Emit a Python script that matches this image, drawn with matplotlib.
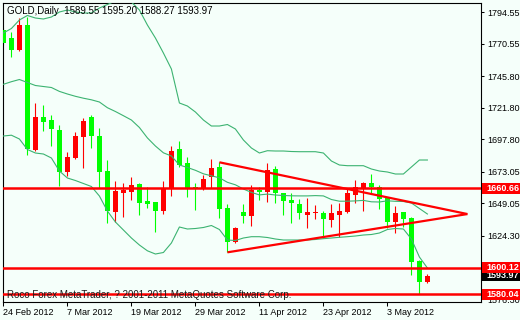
import matplotlib
matplotlib.use("Agg")
import matplotlib.pyplot as plt
from matplotlib.patches import Rectangle
from matplotlib.transforms import blended_transform_factory

plt.rcParams['font.family'] = ['Liberation Sans', 'DejaVu Sans']

# ---------------- data ----------------
symbol_title = "GOLD,Daily  1589.55 1595.20 1588.27 1593.97"
copyright_text = "Roco Forex MetaTrader, ? 2001-2011 MetaQuotes Software Corp."

opens = [1781.10, 1774.76, 1765.85, 1784.88, 1689.74, 1714.63, 1712.58, 1704.97, 1673.23, 1683.89,
         1699.87, 1714.63, 1700.40, 1673.76, 1642.79, 1657.25, 1658.01, 1663.87, 1650.93, 1650.17,
         1643.55, 1661.05, 1690.50, 1679.62, 1661.59, 1661.05, 1669.42, 1677.03, 1645.38, 1619.95,
         1642.79, 1639.51, 1659.30, 1658.01, 1675.28, 1656.79, 1651.69, 1648.65, 1640.50, 1641.56,
         1642.03, 1636.47, 1640.28, 1642.79, 1655.50, 1659.84, 1664.86, 1661.81, 1653.21, 1635.18,
         1642.79, 1638.22, 1605.49, 1589.55]
highs = [1782.60, 1779.33, 1789.98, 1790.74, 1725.75, 1723.99, 1716.38, 1708.77, 1688.45, 1703.44,
         1713.87, 1716.38, 1706.26, 1682.13, 1666.15, 1664.86, 1668.97, 1664.86, 1661.81, 1650.17,
         1666.15, 1693.02, 1696.59, 1684.19, 1664.40, 1670.70, 1682.89, 1680.38, 1648.65, 1631.37,
         1648.42, 1663.10, 1661.81, 1679.62, 1677.57, 1656.79, 1657.25, 1652.22, 1652.98, 1647.89,
         1643.32, 1648.42, 1649.18, 1660.59, 1666.91, 1665.62, 1671.25, 1663.10, 1653.75, 1647.13,
         1642.79, 1638.98, 1606.02, 1595.20]
lows = [1769.66, 1760.76, 1765.09, 1685.94, 1689.21, 1704.21, 1692.79, 1662.58, 1670.19, 1682.67,
        1676.27, 1691.50, 1661.05, 1633.96, 1635.18, 1638.98, 1651.69, 1640.28, 1645.38, 1627.56,
        1641.03, 1654.73, 1677.03, 1654.20, 1644.08, 1659.30, 1661.05, 1638.22, 1611.87, 1618.73,
        1633.96, 1631.90, 1651.69, 1649.94, 1649.18, 1640.28, 1633.96, 1637.00, 1630.15, 1637.22,
        1622.99, 1630.91, 1623.75, 1641.56, 1649.64, 1643.55, 1656.03, 1644.84, 1630.15, 1626.35,
        1631.37, 1594.61, 1580.04, 1588.27]
closes = [1770.95, 1765.85, 1784.88, 1690.28, 1714.63, 1711.28, 1705.50, 1673.23, 1684.42, 1700.40,
          1711.82, 1700.40, 1673.23, 1643.55, 1658.54, 1659.30, 1663.10, 1649.64, 1648.88, 1643.55,
          1661.05, 1688.98, 1678.33, 1661.05, 1659.84, 1667.67, 1675.82, 1644.84, 1619.50, 1630.15,
          1639.74, 1659.30, 1658.01, 1674.52, 1657.25, 1651.16, 1649.18, 1641.56, 1642.56, 1642.79,
          1637.22, 1642.03, 1643.55, 1657.25, 1661.81, 1664.40, 1661.81, 1652.45, 1635.18, 1642.03,
          1637.22, 1604.73, 1589.55, 1593.97]

bb_upper = [1778.79, 1782.22, 1788.69, 1792.11, 1790.21, 1789.45, 1790.97, 1794.78, 1796.30, 1794.78,
            1794.02, 1794.02, 1797.82, 1800.49, 1803.15, 1802.77, 1802.39, 1796.30, 1784.88, 1774.99,
            1763.57, 1751.39, 1725.52, 1723.23, 1718.67, 1712.58, 1708.01, 1708.01, 1709.15, 1705.73,
            1697.36, 1691.27, 1687.46, 1689.21, 1688.98, 1688.98, 1688.60, 1688.45, 1688.45, 1688.45,
            1687.46, 1681.37, 1678.33, 1677.80, 1677.80, 1677.80, 1675.28, 1673.76, 1673.00, 1671.48,
            1671.48, 1676.81, 1682.13, 1682.13]
bb_middle = [1739.75, 1741.73, 1743.40, 1741.12, 1738.84, 1738.07, 1737.31, 1734.35, 1732.37, 1730.62,
             1729.17, 1727.95, 1726.28, 1721.94, 1719.05, 1715.85, 1712.58, 1706.87, 1698.95, 1692.79,
             1687.61, 1685.18, 1678.33, 1676.43, 1674.30, 1671.63, 1670.11, 1668.59, 1665.16, 1663.26,
             1660.06, 1657.48, 1655.57, 1656.18, 1655.50, 1655.12, 1654.89, 1654.81, 1654.81, 1655.04,
             1654.81, 1652.07, 1650.78, 1650.78, 1651.01, 1651.39, 1650.32, 1650.17, 1651.08, 1650.70,
             1650.55, 1649.41, 1645.22, 1641.03]
bb_lower = [1700.40, 1701.01, 1698.12, 1690.13, 1687.46, 1686.70, 1683.66, 1673.76, 1668.43, 1666.53,
            1664.25, 1661.96, 1654.73, 1643.32, 1634.95, 1628.86, 1622.77, 1617.44, 1613.03, 1610.59,
            1611.73, 1618.96, 1631.14, 1629.62, 1630.00, 1630.76, 1632.28, 1629.24, 1621.25, 1620.87,
            1622.77, 1623.76, 1623.76, 1623.15, 1622.01, 1621.25, 1621.25, 1621.25, 1621.25, 1621.63,
            1622.24, 1622.77, 1623.30, 1623.76, 1624.29, 1625.05, 1625.43, 1626.57, 1629.24, 1630.00,
            1629.62, 1622.01, 1608.31, 1599.94]

date_labels = ["24 Feb 2012", "7 Mar 2012", "19 Mar 2012", "29 Mar 2012",
               "11 Apr 2012", "23 Apr 2012", "3 May 2012"]
date_bar_index = [0, 8, 16, 24, 32, 40, 48]
price_ticks = [1576.30, 1600.30, 1624.30, 1649.05, 1673.05, 1697.80,
               1721.80, 1745.80, 1770.55, 1794.55]
price_tick_labels = ["1576.30", "", "1624.30", "1649.05", "1673.05", "1697.80",
                     "1721.80", "1745.80", "1770.55", "1794.55"]
level_prices = [1660.66, 1600.12, 1580.04]
last_price = 1593.97
tri_upper_x = [27, 58]
tri_upper_y = [1680.38, 1641.00]
tri_lower_x = [28, 58]
tri_lower_y = [1611.87, 1641.00]

# ---------------- style ----------------
BG = '#F5FFFA'
UP = '#FF0000'
DOWN = '#00FF00'
BAND = '#3CB371'
LINE_RED = '#FF0000'

W, H = 520, 320
fig = plt.figure(figsize=(W / 100, H / 100), dpi=100, facecolor=BG)
ax = fig.add_axes([3 / W, 18 / H, 478 / W, 299 / H], facecolor=BG)
ymin, ymax = 1574.06, 1801.63
ax.set_xlim(-0.05, 59.7)
ax.set_ylim(ymin, ymax)

xs = list(range(len(opens)))
cols = [UP if c >= o else DOWN for o, c in zip(opens, closes)]
bottoms = [min(o, c) for o, c in zip(opens, closes)]
heights = [max(abs(c - o), 0.9) for o, c in zip(opens, closes)]

ax.vlines(xs, lows, highs, colors=cols, linewidth=0.8, zorder=2)
ax.bar(xs, heights, bottom=bottoms, width=0.62, color=cols, linewidth=0, zorder=3)

for band in (bb_upper, bb_middle, bb_lower):
    ax.plot(xs, band, color=BAND, lw=0.8, zorder=4)

for lv in level_prices:
    ax.axhline(lv, color=LINE_RED, lw=1.8, zorder=5)
ax.plot(tri_upper_x, tri_upper_y, color=LINE_RED, lw=1.6, zorder=5, solid_capstyle='butt')
ax.plot(tri_lower_x, tri_lower_y, color=LINE_RED, lw=1.6, zorder=5, solid_capstyle='butt')

# axes / ticks
for sp in ax.spines.values():
    sp.set_color('black')
    sp.set_linewidth(0.8)
ax.yaxis.tick_right()
ax.set_yticks(price_ticks)
ax.set_yticklabels(price_tick_labels)
ax.tick_params(axis='y', length=1.8, width=0.75, pad=3, labelsize=6.5, colors='black', direction='out')
ax.set_xticks(date_bar_index)
ax.set_xticklabels(date_labels, ha='left')
ax.tick_params(axis='x', length=3, width=0.75, pad=1.5, labelsize=6.5, colors='black', direction='out')

# price tags on the right
trans = blended_transform_factory(fig.transFigure, ax.transData)
box_h = 11 * (ymax - ymin) / 299


def tag(price, face, z):
    fig.add_artist(Rectangle((482 / W, price - box_h / 2), 38 / W, box_h, transform=trans,
                             facecolor=face, edgecolor='none', zorder=z, clip_on=False))
    fig.text(486 / W, price, f"{price:.2f}", transform=trans, color='white', fontsize=6.5,
             fontweight='bold', va='center', ha='left', zorder=z + 0.5)


tag(last_price, 'black', 6)
for i, lv in enumerate(level_prices):
    tag(lv, LINE_RED, 7 + i)

fig.text(7 / W, 1 - 11 / H, symbol_title, fontsize=7, color='black', va='center', ha='left', zorder=20)
fig.text(7 / W, 1 - 295 / H, copyright_text, fontsize=7, color='#1a1a1a', va='center', ha='left', zorder=20)

fig.savefig('out.png', dpi=100, facecolor=BG)
